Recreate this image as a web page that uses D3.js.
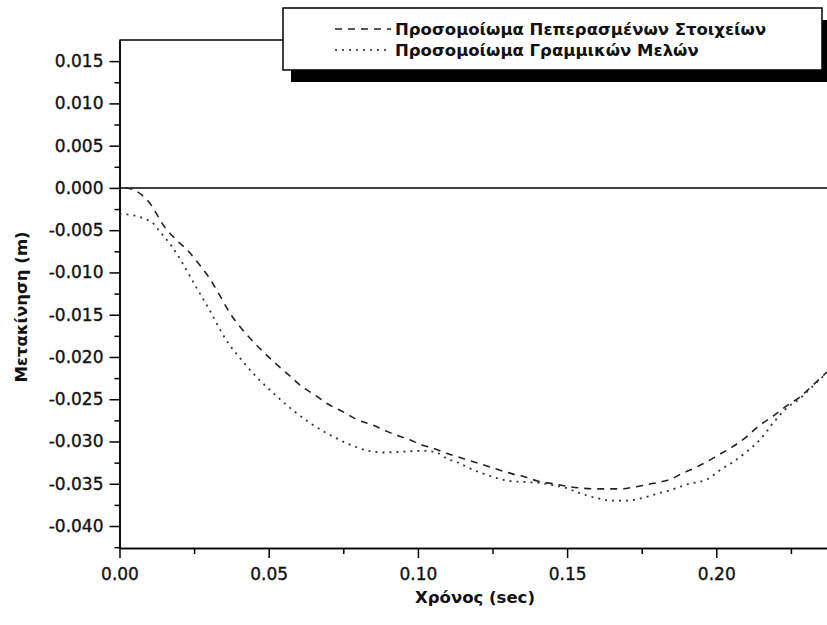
<!DOCTYPE html>
<html lang="el">
<head>
<meta charset="UTF-8">
<title>Μετακίνηση - Χρόνος</title>
<script src="https://cdn.jsdelivr.net/npm/d3@7"></script>
<style>
    body { margin: 0; background: #fff; }
    svg { display: block; }
    .tick text { font-family: "DejaVu Sans", sans-serif; font-size: 17px; fill: #111; stroke: #111; stroke-width: 0.35px; }
    .axis path, .axis line { stroke: #000; stroke-width: 1.5px; }
    .title { font-family: "DejaVu Sans", sans-serif; font-weight: bold; fill: #111; }
</style>
</head>
<body>
<svg id="chart" width="827" height="625"></svg>
<script>
// tick values
const xTicks = [0.00, 0.05, 0.10, 0.15, 0.20];
const xMinorTicks = [0.025, 0.075, 0.125, 0.175, 0.225];
const yTicks = [0.015, 0.010, 0.005, 0.000, -0.005, -0.010, -0.015, -0.020, -0.025, -0.030, -0.035, -0.040];
const yMinorTicks = [0.0125, 0.0075, 0.0025, -0.0025, -0.0075, -0.0125, -0.0175, -0.0225, -0.0275, -0.0325, -0.0375, -0.0425];

// series: finite element model (dashed)
const timeFE = [0.002, 0.0046, 0.0097, 0.0153, 0.0192, 0.0231, 0.0264, 0.0298, 0.0326, 0.0370,
    0.0443, 0.0482, 0.0521, 0.0566, 0.0611, 0.0655, 0.0700, 0.0750, 0.0795, 0.0845,
    0.0884, 0.0923, 0.0973, 0.1013, 0.1052, 0.1096, 0.1141, 0.1186, 0.1231, 0.1275,
    0.1314, 0.1359, 0.1404, 0.1454, 0.1499, 0.1543, 0.1588, 0.1633, 0.1677, 0.1722,
    0.1767, 0.1811, 0.1845, 0.1884, 0.1923, 0.1968, 0.2007, 0.2051, 0.2096, 0.2141,
    0.2190, 0.2231, 0.2281, 0.2325, 0.2370];
const dispFE = [0.0000, -0.0002, -0.0016, -0.0047, -0.0062, -0.0075, -0.0089, -0.0105, -0.0121, -0.0148,
    -0.0180, -0.0194, -0.0207, -0.0221, -0.0235, -0.0245, -0.0256, -0.0265, -0.0274, -0.0280,
    -0.0286, -0.0292, -0.0298, -0.0304, -0.0308, -0.0314, -0.0319, -0.0324, -0.0329, -0.0334,
    -0.0338, -0.0342, -0.0347, -0.0350, -0.0353, -0.0355, -0.0356, -0.0356, -0.0356, -0.0354,
    -0.0351, -0.0348, -0.0345, -0.0338, -0.0332, -0.0324, -0.0316, -0.0307, -0.0296, -0.0282,
    -0.0270, -0.0259, -0.0247, -0.0233, -0.0218];

// series: frame (line member) model (dotted)
const timeFrame = [0.000, 0.0040, 0.0080, 0.0113, 0.0136, 0.0175, 0.0208, 0.0253, 0.0298, 0.0354,
    0.0415, 0.0460, 0.0510, 0.0588, 0.0638, 0.0694, 0.0761, 0.0834, 0.0884, 0.0951,
    0.1018, 0.1063, 0.1096, 0.1141, 0.1175, 0.1219, 0.1270, 0.1314, 0.1364, 0.1409,
    0.1443, 0.1487, 0.1550, 0.1600, 0.1650, 0.1700, 0.1750, 0.1800, 0.1850, 0.1900,
    0.1973, 0.2012, 0.2057, 0.2102, 0.2146, 0.2191, 0.2231, 0.2281, 0.2325, 0.2370];
const dispFrame = [-0.0031, -0.0032, -0.0036, -0.0042, -0.0052, -0.0069, -0.0087, -0.0115, -0.0142, -0.0178,
    -0.0206, -0.0224, -0.0241, -0.0265, -0.0278, -0.0290, -0.0302, -0.0311, -0.0313, -0.0312,
    -0.0311, -0.0313, -0.0320, -0.0326, -0.0332, -0.0338, -0.0344, -0.0347, -0.0348, -0.0349,
    -0.0351, -0.0354, -0.0362, -0.0367, -0.0370, -0.0370, -0.0367, -0.0362, -0.0357, -0.0351,
    -0.0344, -0.0334, -0.0324, -0.0312, -0.0298, -0.0278, -0.0262, -0.0249, -0.0234, -0.0219];

const legendLabels = ["Προσομοίωμα Πεπερασμένων Στοιχείων", "Προσομοίωμα Γραμμικών Μελών"];

const svg = d3.select("#chart");
const plotLeft = 119.5, plotRight = 827, plotTop = 40, plotBottom = 548;

const x = d3.scaleLinear().domain([0, 0.2371]).range([plotLeft, plotRight]);
const y = d3.scaleLinear().domain([-0.0426, 0.0175]).range([plotBottom, plotTop]);

svg.append("defs").append("clipPath").attr("id", "plot")
    .append("rect").attr("x", plotLeft).attr("y", plotTop)
    .attr("width", plotRight - plotLeft).attr("height", plotBottom - plotTop);

// frame top line and zero line
svg.append("line").attr("x1", plotLeft).attr("x2", plotRight).attr("y1", plotTop).attr("y2", plotTop)
    .attr("stroke", "#000").attr("stroke-width", 1.5);
svg.append("line").attr("x1", plotLeft).attr("x2", plotRight).attr("y1", y(0)).attr("y2", y(0))
    .attr("stroke", "#000").attr("stroke-width", 1.5);

// minor ticks
svg.append("g").attr("class", "axis").attr("transform", `translate(0,${plotBottom})`)
    .call(d3.axisBottom(x).tickValues(xMinorTicks).tickSize(6).tickSizeOuter(0).tickFormat(""));
svg.append("g").attr("class", "axis").attr("transform", `translate(${plotLeft},0)`)
    .call(d3.axisLeft(y).tickValues(yMinorTicks).tickSize(5).tickSizeOuter(0).tickFormat(""));

// major axes
svg.append("g").attr("class", "axis").attr("transform", `translate(0,${plotBottom})`)
    .call(d3.axisBottom(x).tickValues(xTicks).tickSize(10).tickSizeOuter(0).tickPadding(10)
        .tickFormat(d => d.toFixed(2)));
svg.append("g").attr("class", "axis").attr("transform", `translate(${plotLeft},0)`)
    .call(d3.axisLeft(y).tickValues(yTicks).tickSize(10).tickSizeOuter(0).tickPadding(6)
        .tickFormat(d => d.toFixed(3)));

// curves
const line = d3.line().x(d => x(d[0])).y(d => y(d[1])).curve(d3.curveMonotoneX);
const plot = svg.append("g").attr("clip-path", "url(#plot)");

plot.append("path")
    .datum(d3.zip(timeFE, dispFE))
    .attr("d", line)
    .attr("fill", "none")
    .attr("stroke", "#222")
    .attr("stroke-width", 1.6)
    .attr("stroke-dasharray", "7,6");

plot.append("path")
    .datum(d3.zip(timeFrame, dispFrame))
    .attr("d", line)
    .attr("fill", "none")
    .attr("stroke", "#333")
    .attr("stroke-width", 1.8)
    .attr("stroke-dasharray", "2,5");

// axis titles
svg.append("text").attr("class", "title")
    .attr("x", 475).attr("y", 603)
    .attr("text-anchor", "middle")
    .style("font-size", "16.5px")
    .text("Χρόνος (sec)");

svg.append("text").attr("class", "title")
    .attr("transform", "translate(27,307) rotate(-90)")
    .attr("text-anchor", "middle")
    .style("font-size", "16.5px")
    .text("Μετακίνηση (m)");

// legend with drop shadow
const legend = svg.append("g");
legend.append("rect").attr("x", 291).attr("y", 20).attr("width", 545).attr("height", 62).attr("fill", "#000");
legend.append("rect").attr("x", 283).attr("y", 8).attr("width", 539).attr("height", 62)
    .attr("fill", "#fff").attr("stroke", "#000").attr("stroke-width", 1.5);

const dashes = ["7,6", "2,5"];
legendLabels.forEach((label, i) => {
    const ly = 29 + i * 21;
    legend.append("line").attr("x1", 335).attr("x2", 391).attr("y1", ly).attr("y2", ly)
        .attr("stroke", "#222").attr("stroke-width", 1.6).attr("stroke-dasharray", dashes[i]);
    legend.append("text").attr("class", "title")
        .attr("x", 395).attr("y", ly + 6)
        .style("font-size", "16.5px")
        .text(label);
});
</script>
</body>
</html>
